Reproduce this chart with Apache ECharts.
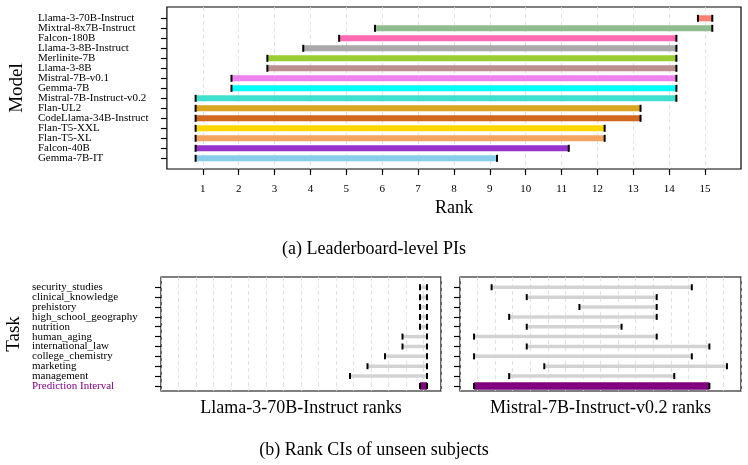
<!DOCTYPE html>
<html>
<head>
<meta charset="utf-8">
<script src="https://cdn.jsdelivr.net/npm/echarts@6/dist/echarts.min.js"></script>
<style>
html,body{margin:0;padding:0;background:#fff;}
#chart{width:748px;height:465px;}
</style>
</head>
<body>
<div id="chart"></div>
<script>
// ---- data ----
const models = ['Llama-3-70B-Instruct', 'Mixtral-8x7B-Instruct', 'Falcon-180B', 'Llama-3-8B-Instruct',
  'Merlinite-7B', 'Llama-3-8B', 'Mistral-7B-v0.1', 'Gemma-7B', 'Mistral-7B-Instruct-v0.2', 'Flan-UL2',
  'CodeLlama-34B-Instruct', 'Flan-T5-XXL', 'Flan-T5-XL', 'Falcon-40B', 'Gemma-7B-IT'];
const leaderLow  = [14.8, 5.8, 4.8, 3.8, 2.8, 2.8, 1.8, 1.8, 0.8, 0.8, 0.8, 0.8, 0.8, 0.8, 0.8];
const leaderHigh = [15.2, 15.2, 14.2, 14.2, 14.2, 14.2, 14.2, 14.2, 14.2, 13.2, 13.2, 12.2, 12.2, 11.2, 9.2];
const modelColors = ['#FA8072', '#8FBC8F', '#FF69B4', '#A9A9A9', '#9ACD32', '#BC8F8F', '#EE82EE', '#00FFFF',
  '#40E0D0', '#DAA520', '#D2691E', '#FFD700', '#F4A460', '#9932CC', '#87CEEB'];
const rankTicks = [1, 2, 3, 4, 5, 6, 7, 8, 9, 10, 11, 12, 13, 14, 15];

const tasks = ['security_studies', 'clinical_knowledge', 'prehistory', 'high_school_geography', 'nutrition',
  'human_aging', 'international_law', 'college_chemistry', 'marketing', 'management', 'Prediction Interval'];
const llamaLow  = [14.8, 14.8, 14.8, 14.8, 14.8, 13.8, 13.8, 12.8, 11.8, 10.8, 14.8];
const llamaHigh = [15.2, 15.2, 15.2, 15.2, 15.2, 15.2, 15.2, 15.2, 15.2, 15.2, 15.2];
const mistralLow  = [1.8, 3.8, 6.8, 2.8, 3.8, 0.8, 3.8, 0.8, 4.8, 2.8, 0.8];
const mistralHigh = [13.2, 11.2, 11.2, 11.2, 9.2, 11.2, 14.2, 13.2, 15.2, 12.2, 14.2];

// ---- helpers ----
const FONT = 'Liberation Serif';
const modelIdx = models.map((_, i) => i);
const taskIdx = tasks.map((_, i) => i);
const PI_INDEX = tasks.length - 1;
const evens = arr => arr.filter(i => i % 2 === 0);
const odds = arr => arr.filter(i => i % 2 === 1);

function rows(low, high) { return low.map((v, i) => [v, high[i], i]); }

function intervalRenderer(getColor, getHeight, capH) {
  return function (params, api) {
    const i = api.value(2);
    const s = api.coord([api.value(0), i]);
    const e = api.coord([api.value(1), i]);
    const h = getHeight(i);
    return {
      type: 'group',
      children: [
        { type: 'rect', shape: { x: s[0], y: s[1] - h / 2, width: e[0] - s[0], height: h }, style: { fill: getColor(i) } },
        { type: 'rect', shape: { x: s[0] - 1, y: s[1] - capH / 2, width: 2, height: capH }, style: { fill: '#000' } },
        { type: 'rect', shape: { x: e[0] - 1, y: e[1] - capH / 2, width: 2, height: capH }, style: { fill: '#000' } }
      ]
    };
  };
}

const splitDash = { show: true, lineStyle: { color: '#dcdcdc', type: [4, 3], width: 0.8 } };
const gridBase = { show: true, borderColor: '#000', borderWidth: 1.2, backgroundColor: '#fff', containLabel: false };
const noLine = { show: false, onZero: false };
const labelCommon = { fontFamily: FONT, fontSize: 11, color: '#000', showMinLabel: true, showMaxLabel: true, hideOverlap: false };
const tickStyle = { color: '#000', width: 1.2 };

function labelAxis(gridIndex, min, max, values, formatter, extra) {
  return Object.assign({
    type: 'value', gridIndex, inverse: true, min, max, position: 'left',
    axisLine: noLine, splitLine: { show: false }, axisTick: { show: false },
    axisLabel: Object.assign({}, labelCommon, { customValues: values, align: 'left', margin: 129, formatter })
  }, extra || {});
}

const modelFmt = v => models[Math.round(v)];
const taskFmt = v => { const i = Math.round(v); return i === PI_INDEX ? '{p|' + tasks[i] + '}' : tasks[i]; };
const taskRich = { p: { color: '#800080', fontFamily: FONT, fontSize: 11 } };

const option = {
  animation: false,
  textStyle: { fontFamily: FONT },
  title: [
    { text: '(a) Leaderboard-level PIs', left: 'center', top: 240, padding: 0,
      textStyle: { fontFamily: FONT, fontSize: 18, fontWeight: 'normal', color: '#000' } },
    { text: '(b) Rank CIs of unseen subjects', left: 'center', top: 441, padding: 0,
      textStyle: { fontFamily: FONT, fontSize: 18, fontWeight: 'normal', color: '#000' } }
  ],
  grid: [
    Object.assign({ left: 161, top: 7, width: 580, height: 162 }, gridBase),
    Object.assign({ left: 161, top: 277, width: 280, height: 114 }, gridBase),
    Object.assign({ left: 460, top: 277, width: 281, height: 114 }, gridBase)
  ],
  xAxis: [
    { type: 'value', gridIndex: 0, min: 0, max: 16, interval: 1,
      name: 'Rank', nameLocation: 'middle', nameGap: 30,
      nameTextStyle: { fontFamily: FONT, fontSize: 18, color: '#000' },
      axisLine: noLine,
      axisTick: { show: true, customValues: rankTicks, length: 6, lineStyle: tickStyle },
      axisLabel: Object.assign({}, labelCommon, { customValues: rankTicks, margin: 15 }),
      splitLine: splitDash },
    { type: 'value', gridIndex: 1, min: 0, max: 16, interval: 1,
      name: 'Llama-3-70B-Instruct ranks', nameLocation: 'middle', nameGap: 8,
      nameTextStyle: { fontFamily: FONT, fontSize: 18, color: '#000', verticalAlign: 'top' },
      axisLine: noLine, axisTick: { show: false }, axisLabel: { show: false },
      splitLine: splitDash },
    { type: 'value', gridIndex: 2, min: 0, max: 16, interval: 1,
      name: 'Mistral-7B-Instruct-v0.2 ranks', nameLocation: 'middle', nameGap: 8,
      nameTextStyle: { fontFamily: FONT, fontSize: 18, color: '#000', verticalAlign: 'top' },
      axisLine: noLine, axisTick: { show: false }, axisLabel: { show: false },
      splitLine: splitDash }
  ],
  yAxis: [
    // 0: top chart main axis (ticks, even labels, name)
    labelAxis(0, -1.13, 15.07, evens(modelIdx), modelFmt, {
      name: 'Model', nameLocation: 'middle', nameGap: 137,
      nameTextStyle: { fontFamily: FONT, fontSize: 19, color: '#000' },
      axisTick: { show: true, customValues: modelIdx, length: 6, lineStyle: tickStyle } }),
    // 1: top chart odd labels
    labelAxis(0, -1.13, 15.07, odds(modelIdx), modelFmt),
    // 2: bottom-left main axis
    labelAxis(1, -1.04, 10.51, evens(taskIdx), taskFmt, {
      name: 'Task', nameLocation: 'middle', nameGap: 137,
      nameTextStyle: { fontFamily: FONT, fontSize: 19, color: '#000' },
      axisTick: { show: true, customValues: taskIdx, length: 6, lineStyle: tickStyle } }),
    // 3: bottom-left odd labels
    labelAxis(1, -1.04, 10.51, odds(taskIdx), taskFmt),
    // 4: bottom-right axis (ticks only)
    { type: 'value', gridIndex: 2, inverse: true, min: -1.04, max: 10.51,
      axisLine: noLine, splitLine: { show: false },
      axisTick: { show: true, customValues: taskIdx, length: 6, lineStyle: tickStyle },
      axisLabel: { show: false } }
  ],
  series: [
    { type: 'custom', xAxisIndex: 0, yAxisIndex: 0, data: rows(leaderLow, leaderHigh),
      encode: { x: [0, 1], y: 2 },
      renderItem: intervalRenderer(i => modelColors[i], () => 6, 7) },
    { type: 'custom', xAxisIndex: 1, yAxisIndex: 2, data: rows(llamaLow, llamaHigh),
      encode: { x: [0, 1], y: 2 },
      renderItem: intervalRenderer(i => i === PI_INDEX ? '#800080' : '#d3d3d3', i => i === PI_INDEX ? 7.5 : 3.5, 6) },
    { type: 'custom', xAxisIndex: 2, yAxisIndex: 4, data: rows(mistralLow, mistralHigh),
      encode: { x: [0, 1], y: 2 },
      renderItem: intervalRenderer(i => i === PI_INDEX ? '#800080' : '#d3d3d3', i => i === PI_INDEX ? 7.5 : 3.5, 6) }
  ]
};
option.yAxis[2].axisLabel.rich = taskRich;
option.yAxis[3].axisLabel.rich = taskRich;

const chart = echarts.init(document.getElementById('chart'), null, { renderer: 'canvas' });
chart.setOption(option);
</script>
</body>
</html>
